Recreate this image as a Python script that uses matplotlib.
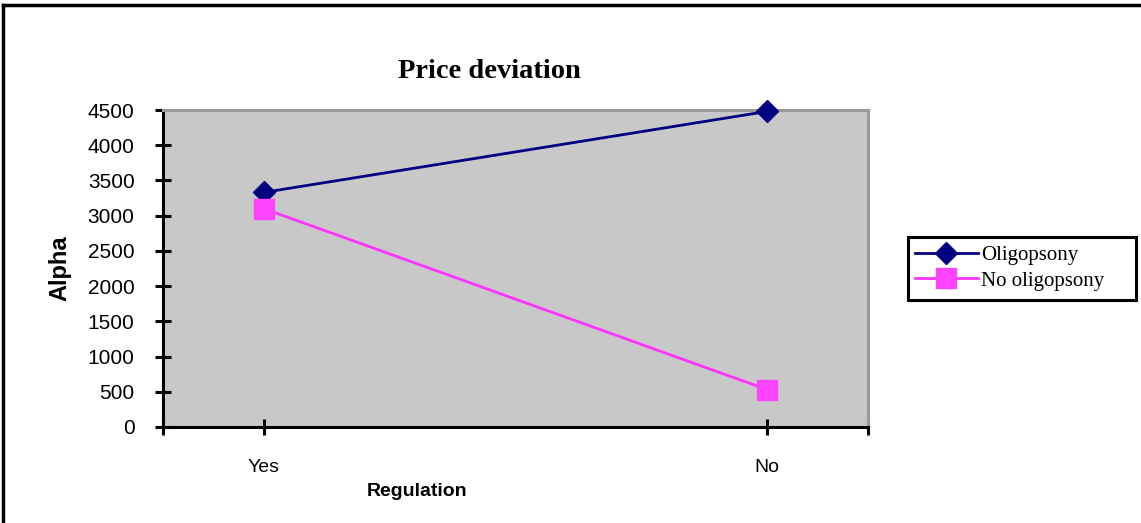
import matplotlib
matplotlib.use("Agg")
import matplotlib.pyplot as plt
from matplotlib.lines import Line2D
from matplotlib.patches import Rectangle

categories = ["Yes", "No"]
oligopsony = [3330, 4480]
no_oligopsony = [3100, 530]
y_ticks = [0, 500, 1000, 1500, 2000, 2500, 3000, 3500, 4000, 4500]

W, H = 1141, 523
fig = plt.figure(figsize=(W / 100, H / 100), dpi=100)
ax = fig.add_axes([163 / W, 96 / H, 705 / W, 317 / H])
ax.set_facecolor("#c8c8c8")

x = list(range(len(categories)))
ax.plot(x, oligopsony, color="#000080", lw=2, marker="D", ms=11,
        mfc="#000080", mec="#000080", label="Oligopsony", clip_on=False, zorder=3)
ax.plot(x, no_oligopsony, color="#ff33ff", lw=2, marker="s", ms=14.5,
        mfc="#ff44ff", mec="#ff44ff", label="No oligopsony", clip_on=False, zorder=3)

ax.set_xlim(-0.2, 1.2)
ax.set_ylim(0, 4500)
ax.set_yticks(y_ticks)
ax.set_xticks(x)
ax.set_xticklabels(categories)
ax.set_xticks([-0.2, 1.2], minor=True)

for s in ("left", "bottom"):
    ax.spines[s].set_color("black")
    ax.spines[s].set_linewidth(2.2)
for s in ("top", "right"):
    ax.spines[s].set_color("#9a9a9a")
    ax.spines[s].set_linewidth(2.2)

ax.tick_params(axis="y", direction="inout", length=11, width=2.2, labelsize=15, pad=15)
ax.tick_params(axis="x", which="both", direction="inout", length=12, width=2.2,
               labelsize=14, pad=17)
for lab in ax.get_yticklabels():
    lab.set_family("Liberation Sans")
for lab in ax.get_xticklabels():
    lab.set_family(["Liberation Sans Narrow", "Liberation Sans"])

fig.text(489 / W, 1 - 71 / H, "Price deviation", family="Liberation Serif",
         fontweight="bold", fontsize=20.5, ha="center", va="center")
ax.set_ylabel("Alpha", family="Liberation Sans", fontweight="bold", fontsize=17)
ax.yaxis.set_label_coords((60 - 163) / 705, 0.5)
ax.set_xlabel("Regulation", family="Liberation Sans", fontweight="bold", fontsize=14)
ax.xaxis.set_label_coords((417 - 163) / 705, -(491 - 427) / 317)
ax.xaxis.label.set_va("center")
ax.yaxis.label.set_va("center")

# legend box drawn separately so it can be wider than its entries
fig.add_artist(Rectangle((908 / W, 1 - 300 / H), 228 / W, 63 / H,
                         transform=fig.transFigure, fill=False,
                         edgecolor="black", lw=2.2, zorder=4))
leg = ax.legend(loc="center left", bbox_to_anchor=(911 / W, 1 - 268 / H),
                bbox_transform=fig.transFigure, frameon=False,
                prop={"family": "Liberation Serif", "size": 15},
                handlelength=3, handletextpad=0.15, borderpad=0.2,
                labelspacing=0.3, borderaxespad=0)

# outer frame (left and top edges)
fig.add_artist(Line2D([3 / W, 3 / W], [0, 1 - 5 / H], color="black", lw=2.5))
fig.add_artist(Line2D([3 / W, 1], [1 - 5 / H, 1 - 5 / H], color="black", lw=2.5))

fig.savefig("out.png", dpi=100)
